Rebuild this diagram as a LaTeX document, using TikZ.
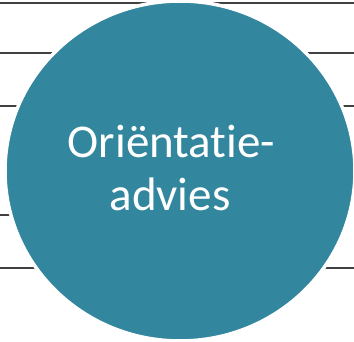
\documentclass[tikz,border=0pt]{standalone}
\usepackage{fontspec}
\setmainfont{Carlito}[Ligatures={NoCommon,NoRare}]
\usepackage{tikz}
\definecolor{petrol}{RGB}{50,134,157}
\definecolor{lijn}{RGB}{64,64,64}

\begin{document}
\begin{tikzpicture}[x=1pt,y=-1pt,
    rule/.style={draw=lijn, line width=1.5pt},
    label/.style={text=white, anchor=base, inner sep=0pt, font=\fontsize{47}{53}\selectfont}]
      \useasboundingbox (0,0) rectangle (354,342);
      \foreach \y in {3,53,106,268}
        \draw[rule] (0,\y) -- (354,\y);
      \draw[rule] (0,215) -- (60,215);
      \filldraw[fill=petrol, draw=white, line width=3.5pt] (180,171) ellipse (175 and 170);
      \node[label] (l1) at (171.5,158) {Oriëntatie-};
      \node[label] (l2) at (170,211) {advies};
    \end{tikzpicture}
\end{document}
